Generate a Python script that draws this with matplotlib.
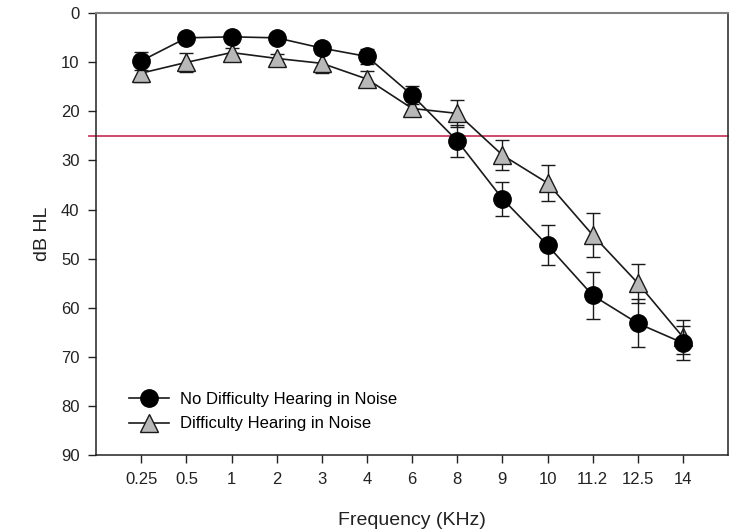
"""Audiogram: mean thresholds for listeners with / without difficulty hearing in noise."""
import matplotlib
matplotlib.use("Agg")
import matplotlib.pyplot as plt
from matplotlib.lines import Line2D
import numpy as np

plt.rcParams["font.family"] = ["Liberation Sans", "DejaVu Sans"]

freq_labels = ["0.25", "0.5", "1", "2", "3", "4", "6", "8", "9", "10", "11.2", "12.5", "14"]

no_diff_mean = [9.7, 5.0, 4.8, 5.0, 7.1, 8.8, 16.7, 26.0, 37.8, 47.3, 57.5, 63.2, 67.2]
no_diff_err = [1.8, 1.0, 1.0, 0.8, 1.0, 1.5, 1.8, 3.3, 3.5, 4.1, 4.8, 4.9, 3.4]

diff_mean = [12.2, 10.0, 8.0, 9.2, 10.2, 13.4, 19.4, 20.4, 28.9, 34.6, 45.2, 55.0, 66.0]
diff_err = [1.8, 1.9, 1.0, 1.0, 1.9, 1.7, 1.5, 2.7, 3.1, 3.6, 4.5, 4.0, 3.5]

cutoff_db = 25

x = np.arange(1, len(freq_labels) + 1)

fig = plt.figure(figsize=(7.34, 5.32), dpi=100)
ax = fig.add_axes([0.131, 0.145, 0.861, 0.830])

# reference line for normal hearing, slightly poking out past the y axis
ax.axhline(cutoff_db, xmin=-0.012, xmax=1, color="#cc3a5c", lw=1.3,
           clip_on=False, zorder=1)

tri_style = dict(color="#1a1a1a", lw=1.2, marker="^", ms=12.5,
                 mfc="#b8b8b8", mec="#1a1a1a", mew=1.0)
dot_style = dict(color="#1a1a1a", lw=1.2, marker="o", ms=12.5,
                 mfc="black", mec="black")

ax.errorbar(x, diff_mean, yerr=diff_err, ecolor="#1a1a1a", elinewidth=1.0,
            capsize=5, capthick=1.0, zorder=3, **tri_style)
ax.errorbar(x, no_diff_mean, yerr=no_diff_err, ecolor="#1a1a1a", elinewidth=1.0,
            capsize=5, capthick=1.0, zorder=4, **dot_style)

ax.set_xlim(0, 14)
ax.set_ylim(90, 0)
ax.set_xticks(x)
ax.set_xticklabels(freq_labels)
ax.set_yticks(np.arange(0, 91, 10))
ax.tick_params(axis="both", labelsize=12, length=6, width=1, direction="out",
               colors="#222222", pad=6)
ax.set_xlabel("Frequency (KHz)", fontsize=14, labelpad=18.5, color="#222222")
ax.set_ylabel("dB HL", fontsize=14, labelpad=7, color="#222222")

ax.spines["top"].set_color("#808080")
ax.spines["top"].set_linewidth(1.5)
for side in ("left", "right", "bottom"):
    ax.spines[side].set_color("#222222")
    ax.spines[side].set_linewidth(1.1)

# legend without the error bars, as in the original
handles = [Line2D([], [], **dot_style), Line2D([], [], **tri_style)]
labels = ["No Difficulty Hearing in Noise", "Difficulty Hearing in Noise"]
ax.legend(handles, labels, loc="lower left", frameon=False, fontsize=12,
          bbox_to_anchor=(0.041, 0.038), handlelength=2.4,
          labelspacing=0.57, handletextpad=0.66, borderaxespad=0)

fig.savefig("out.png", dpi=100)
plt.close(fig)
